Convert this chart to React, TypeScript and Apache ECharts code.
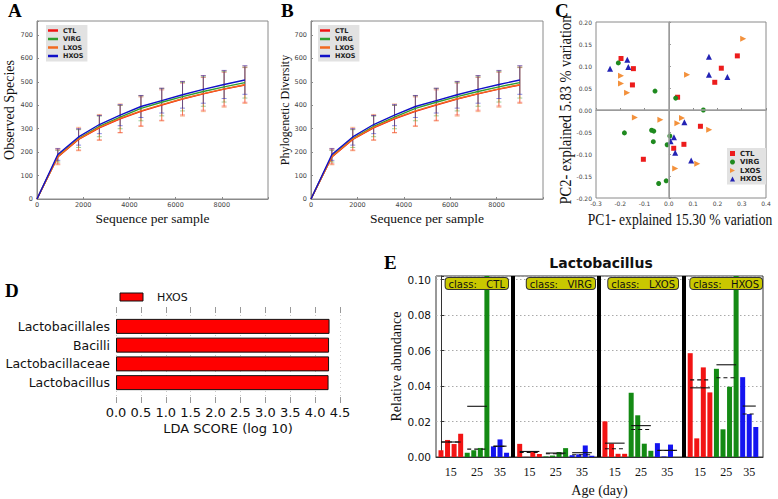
import React, { useEffect, useRef } from "react";
import * as echarts from "echarts";

// ---------- Panels A & B : rarefaction ----------
const groups = ["CTL", "VIRG", "LXOS", "HXOS"];
const depths = [0, 900, 1800, 2700, 3600, 4500, 5400, 6300, 7200, 8100, 9000];
const obsCTL = [0, 180, 254, 304, 342, 374, 401, 427, 449, 469, 487];
const obsVIRG = [0, 183, 258, 310, 350, 387, 413, 437, 459, 479, 497];
const obsLXOS = [0, 181, 256, 306, 344, 376, 403, 428, 450, 470, 488];
const obsHXOS = [0, 190, 265, 318, 358, 395, 420, 445, 468, 489, 508];
const sdCTL = [0, 30, 45, 52, 58, 62, 65, 68, 70, 72, 74];
const sdVIRG = [0, 25, 38, 44, 50, 53, 58, 61, 63, 65, 66];
const sdLXOS = [0, 35, 50, 55, 62, 66, 70, 74, 77, 78, 80];
const sdHXOS = [0, 25, 35, 39, 45, 47, 53, 57, 59, 60, 61];
// Phylogenetic diversity panel (same curves)
const pdCTL = [0, 180, 254, 304, 342, 374, 401, 427, 449, 469, 487];
const pdVIRG = [0, 183, 258, 310, 350, 387, 413, 437, 459, 479, 497];
const pdLXOS = [0, 181, 256, 306, 344, 376, 403, 428, 450, 470, 488];
const pdHXOS = [0, 190, 265, 318, 358, 395, 420, 445, 468, 489, 508];

// ---------- Panel C : PCoA ----------
const pcaCTL = [[-0.197, 0.117], [-0.146, 0.094], [-0.15, 0.057], [0.036, 0.029], [0.282, 0.123], [0.216, 0.095], [0.189, 0.063], [0.13, -0.037], [0.062, -0.078], [0.02, -0.087], [-0.105, -0.112]];
const pcaVIRG = [[-0.208, 0.107], [-0.057, 0.043], [0.028, 0.027], [0.142, 0.0], [-0.183, -0.052], [-0.071, -0.046], [-0.062, -0.048], [-0.064, -0.072], [0.004, -0.059], [-0.007, -0.079], [-0.011, -0.161], [-0.042, -0.167]];
const pcaLXOS = [[-0.197, 0.078], [-0.197, 0.06], [-0.172, 0.039], [0.075, 0.08], [0.306, 0.162], [-0.14, -0.017], [-0.035, -0.022], [0.035, -0.03], [0.054, -0.018], [0.166, -0.045], [0.117, -0.122], [0.026, -0.133]];
const pcaHXOS = [[-0.242, 0.094], [-0.171, 0.114], [-0.167, 0.098], [0.165, 0.121], [0.165, 0.08], [0.241, 0.075], [0.064, -0.028], [0.021, -0.062], [0.007, -0.071], [0.026, -0.097], [0.092, -0.115]];

// ---------- Panel D : LDA ----------
const ldaTaxa = ["Lactobacillales", "Bacilli", "Lactobacillaceae", "Lactobacillus"];
const ldaScores = [4.29, 4.28, 4.28, 4.27];

// ---------- Panel E : Lactobacillus relative abundance ----------
const ages = ["15", "25", "35"];
const relCTL = [[0.0038, 0.0096, 0.0073, 0.0131], [0.0024, 0.0038, 0.0051, 0.103], [0.006, 0.0099, 0.0024]];
const relVIRG = [[0.0074, 0.0001, 0.0033, 0.0017], [0.0003, 0.0008, 0.0028, 0.005], [0.001, 0.0015, 0.0065, 0.0007]];
const relLXOS = [[0.0201, 0.0075, 0.0018, 0.0018], [0.0362, 0.0235, 0.0075, 0.0035], [0.0078, 0.0003, 0.007, 0.0]];
const relHXOS = [[0.0585, 0.0105, 0.0505, 0.0364], [0.0497, 0.0156, 0.0396, 0.103], [0.045, 0.0242, 0.0169]];

const lineColors: Record<string, string> = { CTL: "#f01414", VIRG: "#2e9e2e", LXOS: "#f26a1e", HXOS: "#1010c8" };
const pcaColors: Record<string, string> = { CTL: "#ec1c1c", VIRG: "#1f8a1f", LXOS: "#f3913c", HXOS: "#2323b4" };
const ageColors = ["#f21414", "#148a14", "#1414f0"];

const SERIF = "'Liberation Serif', 'Times New Roman', serif";
const SANS = "'DejaVu Sans', sans-serif";

function median(a: number[]) {
  const s = [...a].sort((x, y) => x - y);
  const n = s.length;
  return n % 2 ? s[(n - 1) / 2] : (s[n / 2 - 1] + s[n / 2]) / 2;
}

function errRender(color: string) {
  return (params: any, api: any) => {
    const x = api.value(0), y = api.value(1), e = api.value(2);
    if (!e) return null;
    const t = api.coord([x, y + e]);
    const b = api.coord([x, y - e]);
    const st = { stroke: color, lineWidth: 0.8, opacity: 0.6 };
    return {
      type: "group",
      children: [
        { type: "line", shape: { x1: t[0], y1: t[1], x2: b[0], y2: b[1] }, style: st },
        { type: "line", shape: { x1: t[0] - 2.5, y1: t[1], x2: t[0] + 2.5, y2: t[1] }, style: st },
        { type: "line", shape: { x1: b[0] - 2.5, y1: b[1], x2: b[0] + 2.5, y2: b[1] }, style: st },
      ],
    };
  };
}

export default function App() {
  const ref = useRef<HTMLDivElement>(null);
  useEffect(() => {
    document.body.style.margin = "0";
    const chart = echarts.init(ref.current!, null, { renderer: "svg" });

    const obs = { CTL: obsCTL, VIRG: obsVIRG, LXOS: obsLXOS, HXOS: obsHXOS } as Record<string, number[]>;
    const pd = { CTL: pdCTL, VIRG: pdVIRG, LXOS: pdLXOS, HXOS: pdHXOS } as Record<string, number[]>;
    const sd = { CTL: sdCTL, VIRG: sdVIRG, LXOS: sdLXOS, HXOS: sdHXOS } as Record<string, number[]>;
    const pca = { CTL: pcaCTL, VIRG: pcaVIRG, LXOS: pcaLXOS, HXOS: pcaHXOS } as Record<string, number[][]>;
    const pcaSymbols: Record<string, any> = {
      CTL: { symbol: "rect", size: 5, rot: 0 },
      VIRG: { symbol: "circle", size: 5, rot: 0 },
      LXOS: { symbol: "triangle", size: 6, rot: -90 },
      HXOS: { symbol: "triangle", size: 6, rot: 0 },
    };

    // Panel E layout from data
    const relAll = [relCTL, relVIRG, relLXOS, relHXOS];
    const bars: any[] = [];
    const stats: number[][] = [];
    const labelPos: number[] = [];
    const labelMap: Record<string, string> = {};
    const seps: number[] = [];
    let k = 0;
    relAll.forEach((cls, ci) => {
      cls.forEach((vals, gi) => {
        const start = k;
        vals.forEach((v) => {
          bars.push({ value: [k, v], itemStyle: { color: ageColors[gi] } });
          k++;
        });
        const end = k - 1;
        const mean = vals.reduce((a, b) => a + b, 0) / vals.length;
        stats.push([start, end, mean, median(vals)]);
        const c = (start + end) / 2;
        labelPos.push(c);
        labelMap[c.toFixed(2)] = ages[gi];
      });
      if (ci < relAll.length - 1) {
        seps.push(k);
        k++;
      }
    });

    const rareX = (gi: number) => ({
      type: "value", gridIndex: gi, min: 0, max: 10000, interval: 2000,
      axisLine: { lineStyle: { color: "#8a8a8a" } },
      axisTick: { inside: true, length: 2, lineStyle: { color: "#8a8a8a" } },
      axisLabel: { fontSize: 6.5, color: "#444", margin: 2, fontFamily: SANS, formatter: (v: number) => (v >= 10000 ? "" : String(v)) },
      splitLine: { show: false },
      name: "Sequence per sample", nameLocation: "middle", nameGap: 12,
      nameTextStyle: { fontFamily: SERIF, fontSize: 13.5, color: "#111" },
    });
    const rareY = (gi: number, name: string, fs: number, gap: number) => ({
      type: "value", gridIndex: gi, min: 0, max: 760, interval: 100,
      axisLine: { show: true, lineStyle: { color: "#8a8a8a" } },
      axisTick: { show: true, inside: true, length: 2, lineStyle: { color: "#8a8a8a" } },
      axisLabel: { fontSize: 6.5, color: "#444", margin: 4, fontFamily: SANS, formatter: (v: number) => (v > 700 ? "" : String(v)) },
      splitLine: { show: false },
      name, nameLocation: "middle", nameGap: gap,
      nameTextStyle: { fontFamily: SERIF, fontSize: fs, color: "#111" },
    });

    const series: any[] = [];
    [0, 1].forEach((gi) => {
      const src = gi === 0 ? obs : pd;
      groups.forEach((g) => {
        series.push({
          type: "custom", name: g + " sd" + gi, xAxisIndex: gi, yAxisIndex: gi,
          renderItem: errRender(lineColors[g]),
          data: depths.map((d, i) => [d, src[g][i], sd[g][i]]),
          encode: { x: 0, y: 1 }, silent: true, z: 2,
        });
      });
      groups.forEach((g) => {
        series.push({
          type: "line", name: g, xAxisIndex: gi, yAxisIndex: gi,
          data: depths.map((d, i) => [d, src[g][i]]),
          showSymbol: false, lineStyle: { width: 1.4, color: lineColors[g] },
          itemStyle: { color: lineColors[g] }, z: 3,
        });
      });
    });

    groups.forEach((g, i) => {
      const s: any = {
        type: "scatter", name: g, xAxisIndex: 2, yAxisIndex: 2, data: pca[g],
        symbol: pcaSymbols[g].symbol, symbolSize: pcaSymbols[g].size, symbolRotate: pcaSymbols[g].rot,
        itemStyle: { color: pcaColors[g], opacity: 1 }, z: 4,
      };
      if (i === 0) {
        s.markLine = {
          silent: true, symbol: "none", label: { show: false },
          lineStyle: { color: "#a0a0a0", width: 1.5, type: "solid" },
          data: [{ xAxis: 0 }, { yAxis: 0 }],
        };
      }
      series.push(s);
    });

    series.push({
      type: "bar", name: "LDA", xAxisIndex: 3, yAxisIndex: 3, data: ldaScores,
      barWidth: 15, itemStyle: { color: "#ff0000", borderColor: "#111", borderWidth: 1 }, z: 3,
    });

    series.push({
      type: "bar", name: "rel", xAxisIndex: 6, yAxisIndex: 5, data: bars,
      barWidth: 5, clip: true, z: 2,
      markLine: {
        silent: true, symbol: "none", label: { show: false },
        lineStyle: { color: "#000", width: 4, type: "solid" },
        data: seps.map((s) => ({ xAxis: s })),
      },
    });
    series.push({
      type: "custom", name: "stats", xAxisIndex: 6, yAxisIndex: 5, data: stats, silent: true, z: 5,
      encode: { x: [0, 1], y: [2, 3] },
      renderItem: (params: any, api: any) => {
        const s = api.value(0), e = api.value(1), m = api.value(2), md = api.value(3);
        const a = api.coord([s, m]), b = api.coord([e, m]);
        const c = api.coord([s, md]), d = api.coord([e, md]);
        return {
          type: "group",
          children: [
            { type: "line", shape: { x1: a[0], y1: a[1], x2: b[0], y2: b[1] }, style: { stroke: "#111", lineWidth: 1.1 } },
            { type: "line", shape: { x1: c[0], y1: c[1], x2: d[0], y2: d[1] }, style: { stroke: "#111", lineWidth: 1.1, lineDash: [4, 3] } },
          ],
        };
      },
    });

    const legendA = (left: number) => ({
      orient: "vertical", left, top: 25, backgroundColor: "#e2e2e2", padding: [2, 4, 2, 2],
      itemGap: 1.5, itemWidth: 10, itemHeight: 2.5, selectedMode: false,
      textStyle: { fontSize: 6.5, fontWeight: "bold", color: "#222", fontFamily: SANS },
      data: groups.map((g) => ({ name: g, icon: "rect", itemStyle: { color: lineColors[g] } })),
    });

    const classBoxRight = [508, 595, 678, 762];
    const graphic: any[] = [
      { type: "text", x: 8, y: 1, style: { text: "A", font: `bold 19px ${SERIF}`, fill: "#000" } },
      { type: "text", x: 281, y: 1, style: { text: "B", font: `bold 19px ${SERIF}`, fill: "#000" } },
      { type: "text", x: 555, y: 1, style: { text: "C", font: `bold 19px ${SERIF}`, fill: "#000" } },
      { type: "text", x: 5, y: 281, style: { text: "D", font: `bold 19px ${SERIF}`, fill: "#000" } },
      { type: "text", x: 384, y: 253, style: { text: "E", font: `bold 19px ${SERIF}`, fill: "#000" } },
      {
        type: "text", x: 680, y: 219, scaleX: 0.8,
        style: { text: "PC1- explained 15.30 % variation", font: `17px ${SERIF}`, fill: "#111", textAlign: "center", textVerticalAlign: "middle" },
      },
      {
        type: "text", x: 565, y: 110, rotation: Math.PI / 2, scaleX: 0.85,
        style: { text: "PC2- explained 5.83 % variation", font: `17px ${SERIF}`, fill: "#111", textAlign: "center", textVerticalAlign: "middle" },
      },
      { type: "rect", shape: { x: 120, y: 293, width: 23, height: 8 }, style: { fill: "#ff0000", stroke: "#111", lineWidth: 1 } },
      { type: "text", x: 157, y: 297, style: { text: "HXOS", font: `11px ${SANS}`, fill: "#111", textVerticalAlign: "middle" } },
      { type: "text", x: 601, y: 263, style: { text: "Lactobacillus", font: `bold 14px ${SANS}`, fill: "#111", textAlign: "center", textVerticalAlign: "middle" } },
      ...groups.map((g, i) => ({
        type: "text", x: classBoxRight[i], y: 278, z: 100,
        style: {
          text: "class:   " + g, font: `10px ${SANS}`, fill: "#111", textAlign: "right", textVerticalAlign: "top",
          backgroundColor: "#c9c800", borderColor: "#333", borderWidth: 1, borderRadius: 3, padding: [1, 3, 0, 3],
        },
      })),
    ];

    const option: any = {
      animation: false,
      backgroundColor: "#fff",
      grid: [
        { left: 37, top: 21, width: 231, height: 178, show: true, borderColor: "#8a8a8a", borderWidth: 1, backgroundColor: "transparent" },
        { left: 311, top: 21, width: 232, height: 178, show: true, borderColor: "#8a8a8a", borderWidth: 1, backgroundColor: "transparent" },
        { left: 596, top: 22, width: 170, height: 176, show: true, borderColor: "#8a8a8a", borderWidth: 1, backgroundColor: "transparent" },
        { left: 116, top: 317, width: 224, height: 75 },
        { left: 116, top: 307, width: 224, height: 96 },
        { left: 436, top: 276, width: 327, height: 181, show: true, borderColor: "#333", borderWidth: 1, backgroundColor: "transparent" },
      ],
      xAxis: [
        rareX(0),
        rareX(1),
        {
          type: "value", gridIndex: 2, min: -0.3, max: 0.4, interval: 0.1,
          axisLine: { lineStyle: { color: "#8a8a8a" } },
          axisTick: { inside: true, length: 2, lineStyle: { color: "#8a8a8a" } },
          axisLabel: { fontSize: 6, color: "#444", margin: 2, fontFamily: SANS, formatter: (v: number) => v.toFixed(1) },
          splitLine: { show: false },
        },
        { type: "value", gridIndex: 3, min: 0, max: 4.5, show: false, splitLine: { show: false } },
        {
          type: "value", gridIndex: 4, min: 0, max: 4.5, interval: 0.5, position: "bottom",
          axisLine: { show: false },
          axisTick: { show: true, inside: true, length: 6, lineStyle: { color: "#999" } },
          axisLabel: { fontSize: 13, color: "#111", margin: 3, fontFamily: SANS, formatter: (v: number) => v.toFixed(1) },
          splitLine: { show: true, lineStyle: { color: "#c8c8c8", type: [1, 3], width: 1 } },
          name: "LDA SCORE (log 10)", nameLocation: "middle", nameGap: 19,
          nameTextStyle: { fontSize: 13, color: "#111", fontFamily: SANS },
        },
        {
          type: "value", gridIndex: 4, min: 0, max: 4.5, interval: 0.5, position: "top",
          axisLine: { show: false },
          axisTick: { show: true, inside: true, length: 6, lineStyle: { color: "#999" } },
          axisLabel: { show: false }, splitLine: { show: false },
        },
        {
          type: "value", gridIndex: 5, min: -0.76, max: 49.1,
          axisLine: { show: true, lineStyle: { color: "#333" } },
          axisTick: { show: false },
          axisLabel: {
            customValues: labelPos, fontSize: 12, color: "#111", margin: 9, fontFamily: SERIF,
            formatter: (v: number) => labelMap[v.toFixed(2)] ?? "",
          },
          splitLine: { show: false },
          name: "Age (day)", nameLocation: "middle", nameGap: 26,
          nameTextStyle: { fontSize: 14, color: "#111", fontFamily: SERIF },
        },
      ],
      yAxis: [
        rareY(0, "Observed Species", 14, 16),
        rareY(1, "Phylogenetic Diversity", 12, 19),
        {
          type: "value", gridIndex: 2, min: -0.2, max: 0.2, interval: 0.05,
          axisLine: { lineStyle: { color: "#8a8a8a" } },
          axisTick: { inside: true, length: 2, lineStyle: { color: "#8a8a8a" } },
          axisLabel: { fontSize: 6, color: "#444", margin: 4, fontFamily: SANS, formatter: (v: number) => v.toFixed(2) },
          splitLine: { show: false },
        },
        {
          type: "category", gridIndex: 3, data: ldaTaxa, inverse: true,
          axisLine: { show: false }, axisTick: { show: false },
          axisLabel: { fontSize: 12.5, color: "#111", margin: 6, fontFamily: SANS },
        },
        { type: "value", gridIndex: 4, min: 0, max: 1, show: false, splitLine: { show: false } },
        {
          type: "value", gridIndex: 5, min: 0, max: 0.102, interval: 0.02,
          axisLine: { show: true, lineStyle: { color: "#333" } },
          axisTick: { show: true, inside: true, length: 3, lineStyle: { color: "#333" } },
          axisLabel: { fontSize: 10.5, color: "#111", margin: 5, fontFamily: SANS, formatter: (v: number) => (v > 0.1005 ? "" : v.toFixed(2)) },
          splitLine: { show: true, lineStyle: { color: "#aaa", type: [1.5, 2.5], width: 1 } },
          name: "Relative abundance", nameLocation: "middle", nameGap: 33,
          nameTextStyle: { fontSize: 14, color: "#111", fontFamily: SERIF },
        },
      ],
      legend: [
        legendA(46),
        legendA(318),
        {
          orient: "vertical", left: 727, top: 148, backgroundColor: "#e2e2e2", padding: [2, 4, 2, 3],
          itemGap: 1.5, itemWidth: 5, itemHeight: 5, selectedMode: false,
          textStyle: { fontSize: 7, fontWeight: "bold", color: "#222", fontFamily: SANS },
          data: [
            { name: "CTL", icon: "rect", itemStyle: { color: pcaColors.CTL } },
            { name: "VIRG", icon: "circle", itemStyle: { color: pcaColors.VIRG } },
            { name: "LXOS", icon: "path://M0,0 L10,5 L0,10 Z", itemStyle: { color: pcaColors.LXOS } },
            { name: "HXOS", icon: "triangle", itemStyle: { color: pcaColors.HXOS } },
          ],
        },
      ],
      graphic,
      series,
    };
    chart.setOption(option);
    return () => chart.dispose();
  }, []);
  return <div ref={ref} style={{ width: 778, height: 499 }} />;
}
